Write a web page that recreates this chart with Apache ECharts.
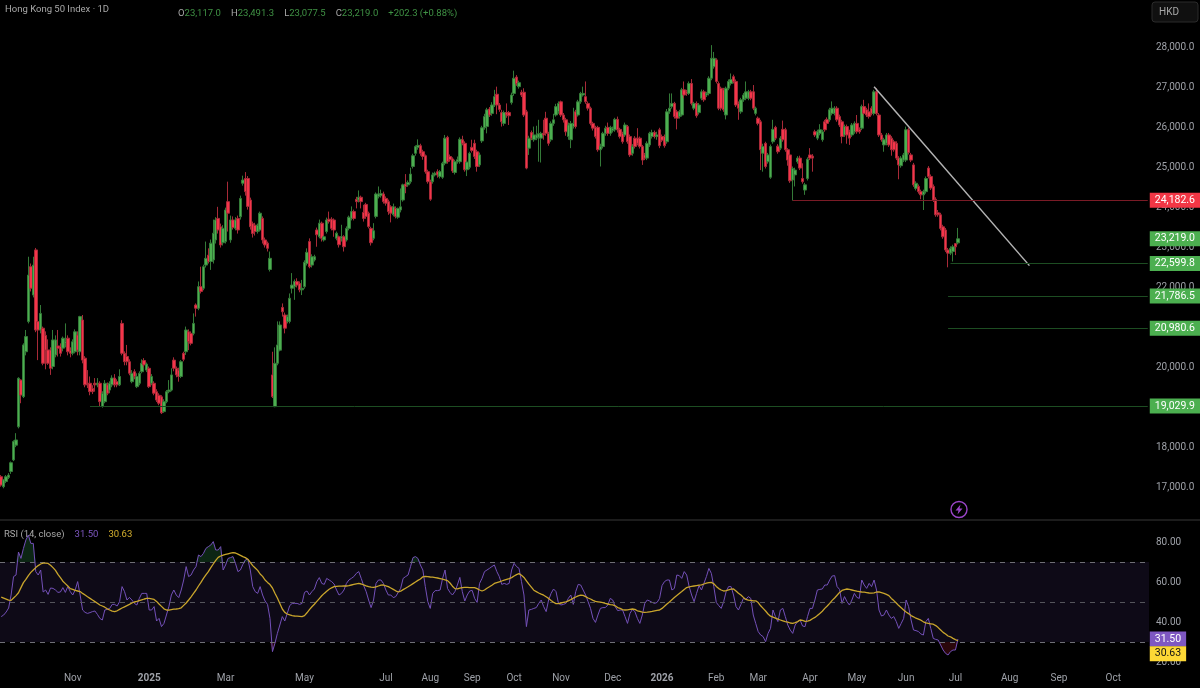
<!DOCTYPE html>
<html>
<head>
<meta charset="utf-8">
<title>Hong Kong 50 Index</title>
<style>html,body{margin:0;background:#000}#chart{width:1200px;height:688px}</style>
<script src="https://cdn.jsdelivr.net/npm/echarts@6/dist/echarts.min.js"></script>
</head>
<body>
<div id="chart"></div>
<script>
// Daily candles, each row is [open, close, low, high]
const barsLate2024 = [
[17260,17050,17010,17300],[17010,17180,16970,17200],[17140,17260,17100,17300],[17240,17300,17200,17350],[17390,17610,17330,17640],[17680,18140,17650,18170],[18050,18180,18000,18350],[18510,19725,18470,19750],[19680,19305,19100,19700],
[19265,20560,19230,20600],[20390,20770,20300,20935],[21145,22310,21100,22770],[22520,21980,21900,22600],[21810,22560,21750,22770],[22940,20935,20880,22990],[21145,20935,20180,21200],[20935,21350,20850,21560],[20980,20100,20050,21020],[20800,20430,19950,20900],
[20435,20100,20060,20700],[20435,19975,19810,20500],[20020,20685,19950,20935],[20310,20685,20250,20800],[20535,20480,20270,20935],[20530,20350,20270,20600],[20480,20730,20400,20770],[20600,20640,20500,21100],[20730,20390,20300,20800],[20430,20350,20250,20500],
[20350,20640,20300,20700],[20390,20890,20350,20950],[20810,20430,20300,20900],[20390,21270,20300,21290],[21185,20180,20100,21310],[20230,19560,19500,20280],[19600,19560,19480,19930],[19600,19390,19300,19770],[19470,19390,19330,19550],[19600,19560,19390,19730],
[19560,19600,19500,19730],[19600,19140,19020,19650],[19020,19350,18990,19400],[19140,19600,19100,19680],[19560,19350,19300,19620],[19430,19600,19350,19650],[19560,19730,19500,19800],[19730,19560,19500,19830],[19640,19560,19500,19700],
[19560,19770,19530,19950]];
const barsEarly2025 = [
[21100,20350,20300,21180],[20350,20140,20050,20400],[20270,20140,20050,20560],[20140,19850,19800,20200],[19640,19850,19600,19930],[19890,19770,19700,19950],[19515,19770,19480,19850],[19600,19850,19550,19900],[19890,20100,19850,20200],[20170,20060,20000,20230],
[19930,20080,19880,20120],[19975,19515,19480,20020],[19600,19770,19550,19830],[19600,19350,19300,19650],[19390,19180,19130,19450],[19300,19100,19050,19350],[19260,18860,18830,19300],[18890,19140,18860,19200],[19140,19390,19100,19430],[19390,19430,19350,19680],
[19430,19810,19400,19975],[20180,19975,19900,20250],[19975,19810,19750,20020],[19930,19770,19640,19990],[19770,20140,19730,20180],[20350,20200,20150,20390],[20390,20935,20310,21020],[20890,20640,20430,20950],[20850,20600,20550,20900],[20850,21100,20800,21350],
[21560,21480,21270,21600],[21480,22020,21430,22150],[22020,21900,21850,22520],[21980,22520,21930,22570],[22560,22730,22500,23150],[22810,22650,22600,22980],[22650,23110,22440,23200],[22690,23360,22600,23700],[23190,23690,23100,23760],[23730,23440,23350,24020],
[23520,23065,23000,23600],[23120,23480,23050,23560],[23150,23940,23100,24000],[24150,23860,23400,24650],[23190,23690,23120,23800],[23690,23500,23450,23780],[23480,23690,23430,23760],[23730,23440,23350,23800],[23770,24230,23700,24300],[24610,24690,24550,24800],[24730,24400,24300,24890],[24730,24030,23950,24790],[24190,23520,23450,24250],
[23600,23350,23250,23650],[23560,23400,23300,23620],[23400,23560,23350,23600],[23440,23860,23400,23900],[23730,23190,23100,23780],[23190,23065,23000,23250],[23110,22980,22900,23150],[22450,22730,22400,22900]];
const barsMid2025 = [
[19810,19265,19230,20390],[19015,20100,19000,20500],[20100,20560,20050,21150],[20430,21060,20400,21150],[21500,21390,21270,21600],[21310,20980,20850,21370],[21150,21270,21100,21320],[21150,21730,21100,21850],[21980,22060,21850,22360],[22020,22150,21690,22200],
[22150,22060,22000,22230],[22100,21940,21880,22150],[21940,21980,21810,22190],[22020,22630,21970,22680],[22600,22880,22550,22980],[23150,22520,22480,23230],[22560,22770,22500,22830],[22690,22770,22650,22820],[23440,23320,23020,23500],[23270,23610,23230,23700],
[23610,23230,23150,23650],[23190,23270,23150,23300],[23400,23690,23350,23750],[23710,23650,23600,23900],[23710,23480,23430,23760],[23690,23440,23270,23730],[23230,23360,23180,23400],[23270,23070,23000,23300],[23230,23270,23150,23570],[23270,23020,22900,23310],
[23190,23480,23150,23530],[23480,23760,23430,23800],[23730,23900,23680,24030],[23900,23730,23680,23950],[24210,24150,23980,24270],[24190,24260,24130,24430],[24260,24150,23980,24300],[23880,23730,23650,24070],[24080,23780,23720,24120],[23860,23525,23480,23900],
[23480,23120,23050,23520],[23230,23420,23180,23610],[23780,24340,23730,24380],[24280,24340,24230,24530],[24300,24350,24250,24450],[24340,24150,24100,24400],[24230,24110,24050,24280],[24150,23900,23820,24200],[24020,23860,23630,24060],[23820,24020,23780,24100],
[23980,23780,23730,24030],[23760,23980,23720,24000],[23940,24020,23880,24480],[24190,24570,24150,24600],[24590,24530,24360,24840],[24570,24630,24520,24680],[24650,24840,24600,25000],[25030,25300,24980,25350],[25360,25530,25300,25560],[25510,25560,25450,25710],
[25550,25360,25300,25600],[25400,25280,25200,25450],[25300,24900,24850,25330],[24900,24650,24600,24950],[24650,24210,24170,24700],[24650,24820,24600,24880],[24820,24860,24780,24900],[24900,24820,24750,24960],[24780,24900,24730,24940],[24760,25110,24720,25150],
[25110,25740,25060,25820],[25760,25150,25100,25800],[25280,25200,25150,25330],[25220,24920,24870,25260],[24880,25150,24830,25200],[25150,25200,25100,25280],[25150,25710,25100,25760],[25700,25610,25560,25800],[25610,24950,24900,25660],[24950,25140,24790,25190],
[25010,25360,24960,25400],[25510,25430,25380,25700],[25610,25280,25220,25700],[25400,25030,24900,25450],[25070,25320,25020,25380],[25670,26000,25620,26050],[26000,26280,25950,26350],[26030,26450,25860,26500],[26470,26320,26270,26520],[26360,26570,26300,26640],
[26570,26780,26520,26950],[26840,26570,26340,27030],[26570,26460,26400,26620],[26380,26150,26030,26450],[26110,26380,26050,26430],[26380,26320,26250,26610],[26380,26300,26070,26420],[26630,26820,26580,26880],[26860,27240,26800,27430],[27270,27100,27050,27320],
[27030,27130,26980,27180],[26890,26820,26770,26950],[26890,26320,26270,26990],[26400,24990,24960,26450],[25490,25740,25320,25800],[25880,25740,25690,25930],[25700,25820,25650,26030],[25740,25820,25690,26050],[25760,25850,25150,26200]];
const barsLate2025 = [
[25740,25860,25130,25900],[25860,25820,25700,26200],[26240,25860,25800,26400],[25860,25610,25550,25900],[25700,26110,25650,26160],[26110,26200,26050,26350],[26320,26530,26280,26600],[26400,26610,26350,26660],[26650,26320,26270,26680],[26320,26200,26130,26370],
[26200,25900,25800,26250],[25780,26070,25700,26130],[25700,26110,25490,26170],[26030,26110,25980,26500],[26400,26030,25980,26450],[26320,26650,26280,26700],[26650,26860,26600,26900],[26820,26860,26780,27030],[26780,26650,26600,27160],[26610,26490,26430,26660],
[26490,26110,26060,26530],[26110,25990,25930,26150],[26010,25780,25730,26050],[26010,25450,25400,26050],[25450,25540,25030,25600],[25530,25860,25480,25900],[25860,25990,25800,26050],[26010,25860,25800,26130],[25860,26010,25800,26050],[25930,25990,25880,26030],
[25950,26210,25900,26250],[26210,25950,25880,26280],[25960,25780,25730,26000],[25860,25650,25600,25900],[25820,26070,25770,26130],[26030,25650,25600,26070],[25780,25320,25270,25830],[25360,25540,25300,25590],[25740,25530,25480,25790],[25740,25610,25560,25990],
[25740,25530,25480,25780],[25530,25190,25070,25570],[25320,25240,25190,25370],[25240,25610,25190,25660],[25570,25860,25520,25900],[25780,25880,25730,25950],[25880,25780,25730,25930],[25780,25820,25700,25900],[25950,25550,25490,26000],[25780,25690,25640,25830],
[25780,25550,25500,25830]];
const barsEarly2026 = [
[25650,26400,25600,26470],[26410,26490,26350,26860],[26530,26610,26480,26860],[26610,26280,26230,26650],[26400,26240,25960,26450],[26280,26400,26230,26450],[26320,26950,26280,27000],[26950,26820,26740,27160],[26900,26860,26800,26950],[26860,27110,26820,27160],
[27110,26610,26560,27220],[26490,26610,26440,26650],[26610,26300,26250,26660],[26380,26570,26330,26620],[26740,26900,26690,26960],[26900,26700,26650,26950],[26820,26860,26770,26900],[26860,27240,26810,27290],[27240,27740,27190,28070],[27530,27740,27480,27900],
[27700,27160,27110,27740],[27110,26490,26440,27160],[26990,26490,26430,27030],[26950,26450,26400,27000],[26320,26990,26210,27030],[26990,27160,26940,27210],[27110,27210,27060,27360],[27280,27160,27110,27330],[27160,26570,26520,27210],
[26610,26490,26200,26660],[26400,26700,26350,26750],[26700,26820,26650,26870],[26740,26900,26690,27160],[26740,26900,26690,26950],[26900,26740,26690,26950],[26900,26490,26440,27070],[26360,26490,26310,26530],[26240,26110,26060,26280],[26150,25450,24940,26200],
[25360,25530,24900,25600],[25610,25030,24980,25650],[25150,25320,25100,25370],[24760,25530,24720,25580],[25650,25960,25600,26200],[26010,25740,25690,26050],[25540,25400,25350,25590],[25490,25740,25440,25790],[25960,25700,25650,26180],
[25950,25450,25400,26000],[25450,25190,25050,25490],[25320,24670,24620,25370],[24690,24980,24175,25030],[24820,24940,24530,25000],[25150,25240,25100,25290],[25240,24990,24940,25300],[24730,24650,24600,25110],[24440,24570,24320,24620],[24730,25210,24680,25260],
[25320,25240,25190,25490],[25290,25240,24900,25340]];
const barsMid2026 = [
[25900,25820,25770,25950],[25740,25900,25690,25950],[25860,25950,25810,26090],[25700,25900,25650,25950],[26150,25950,25900,26200],[26210,26110,26060,26260],[26200,26450,26150,26500],[26360,26490,26310,26660],[26360,26490,26310,26540],[26490,26200,26150,26540],
[26280,26070,26020,26330],[26150,25780,25610,26200],[25820,26030,25770,26080],[26030,25820,25600,26080],[25900,25740,25570,25950],[25820,26070,25770,26120],[25900,26110,25850,26160],[26110,25900,25850,26320],[25960,25900,25850,26010],[25990,26530,25940,26580],
[26530,26360,26310,26700],[26450,26320,26270,26500],[26400,26280,26230,26610],[26490,26360,26310,26540],[26360,26900,26310,26950],[26900,26360,26310,26990],[26320,25820,25770,26370],[25820,25700,25650,25870],[25570,25700,25400,25750],[25610,25820,25560,25870],
[25820,25570,25520,25870],[25740,25450,25300,25790],[25650,25450,25400,25700],[25610,25240,25190,25660],[25240,25070,24710,25290],[25050,25240,25000,25290],[25190,25320,25140,25370],[25190,25950,25140,26030],[25950,25380,25330,26000],[25320,25190,25140,25370],
[25070,24570,24520,25120],[24480,24610,24430,24660],[24530,24400,24350,24580],[24400,24320,24210,24450],[24320,24400,23940,24450],[24400,24730,24350,24780],[24990,24780,24730,25040],[24780,24490,24440,24830],[24530,24190,24140,24580],[24210,23820,23770,24260],
[23870,23820,23770,23940],[23820,23480,23430,23870],[23520,23270,23220,23570],[23440,22940,22890,23490],[22940,22860,22505,22990],[22860,22980,22810,23030],[22900,23020,22650,23070],[23100,23017,22810,23110],[23117,23219,23077.5,23491.3]];

// RSI (14) and its moving average, one value per candle
const rsiValues = [
42.7,43.5,45,47,53.5,62.7,63.5,75,71.8,76.8,81,83.5,79.3,79.3,65.2,63.5,66,55,56,53.8,
57,56.8,56,54.8,55,57.2,54.8,57.7,55.2,53.5,56,60.2,53.5,46,44.8,44.3,44.7,45.2,45.5,43.8,
41.8,41,46,46.3,46.8,48.8,48.8,48,50.2,57.7,55.2,51,52.3,51,49.3,48.5,51.8,54.3,54.3,54.3,
46,46,47.7,40.5,41.8,37.7,39.3,43.5,47.7,53.5,56,53.5,52.2,56,61,67.7,62.7,63.5,66,67.7,
73.5,72.7,74.3,76.8,77.7,78.5,80.2,76,76,77.7,66,68.5,71.8,72.2,72.7,69.3,65.2,66,68.8,71,
71.5,66,57.7,55.2,54.3,57.7,53.5,50.5,48.8,41.8,25.2,29.3,34.3,38.5,42.7,40.5,44.3,48.2,49.3,49.3,
49.3,48.8,49.3,54.8,55.5,53.5,55.2,56.5,60.2,62.2,59.3,58.8,61.8,61,60.2,59,56,53.5,54.3,56,
59.3,61,61.8,62.7,64.3,65.2,61.8,58.2,55.2,51,47.2,51,59.3,61,61,59.3,56,53.5,53.5,52.2,
52.7,54.8,56.8,61.8,62.7,63.5,67.7,72.2,72.7,71.8,68.5,66,57.7,50.2,46.8,54.3,55.7,55.7,56,61.8,
66,56.8,54.8,53.5,55.2,58.5,62.3,55.2,50.5,53.5,55.5,55.8,51.8,49.8,59.3,61.8,65.2,66,66.8,67.7,
68.5,65.2,62.7,58.8,59.3,58.8,59.3,66,69.3,67.7,66.8,60.2,53.5,37.7,46,46.3,46.8,47.2,49.3,51,
47.7,45.2,51,54.3,56.5,55.2,49.3,48.5,48.8,49.3,51.8,53.5,48.8,55.2,58.8,58.5,56,53.5,50.2,46.8,
41.8,39.8,43.5,46.8,47.2,47.2,48.5,51.8,51,47.7,45.7,46,46,42.7,39.3,44.3,46.3,45.2,41.8,39.3,
43.5,49.3,51,50.5,49.8,49.3,49.8,51.8,58.2,60.2,61,61,56,56.8,63.5,63.2,61.8,65.2,63.5,57.7,
53.5,50.2,54.3,58.2,56,59.3,62.7,66.8,64.3,57.7,49.8,48.2,46.8,50.2,55.2,57.7,57.7,53.5,47.7,46,
48.8,51.8,51.3,52.7,51.8,43.5,39.3,35.2,33.5,32.7,30.2,34.3,36.8,46,42.7,40.2,46,46.8,42.7,38.5,
36,34.3,38.5,40.2,41,38,37.7,42.7,46.8,46.8,51,56,56.3,56.5,58.5,58.5,61,63,63.2,57.7,
56.3,49.3,52.7,50.2,48.5,51,54.3,52.3,51.8,61,58.5,56.8,59.3,57.7,61,56,46,43,43.5,46,
43.5,41.8,42.7,40.2,36.8,39.3,41.8,51,47.7,41,36,35.7,35.2,34,33.5,40.2,41.8,36.8,31.8,31.3,
31,28.5,26,24.3,23.5,25.2,26,26,31.5];
const rsiAverage = [
52.4,51.9,51.4,50.9,50.8,52,53.2,54.6,57.2,59.7,61.3,63.2,64.8,66,67.2,68.2,69,69.4,69.4,69.3,
68.4,67.2,65.8,63.8,62.2,60.4,59.2,58,56.7,56.3,55.8,55.5,55.2,54.3,53.5,52.6,51.8,51,50.2,49.4,
48.5,48,47.4,46.6,46,45.4,45.2,45.6,46.3,47,47.6,48.2,48.8,49.5,50,50.3,50.7,51.1,51.5,51.8,
51.8,51.6,51.3,50.3,49,47.8,46.6,46,45.9,46.2,46.4,46.5,46.7,47.1,48.3,49.5,51,52.6,54.3,56,
58,59.8,61.8,63.6,65.2,67.2,69,70.8,72.3,73,73.4,73.8,74.1,74.4,74.7,74.5,73.9,73.3,72.7,72.2,
71.4,69.8,68.2,67,65.8,64,62.8,61,59.8,58.7,57,54.4,52,49.3,46.5,44.8,44,43.6,43.2,43,
42.9,42.8,42.7,43.2,44.6,46.2,47.6,48.9,50.3,51.7,53.1,54.3,55.4,56.4,57.1,57.7,57.8,57.9,57.9,58,
58,58.2,58.5,58.8,59.1,59.3,59,58.6,58.1,57.7,57.4,57.3,57.6,58,58.4,58.5,58.1,57.7,57,56.3,
55.6,55,55.4,56.2,56.9,57.6,58.4,59.2,60,60.8,61.5,62.6,62.8,62.7,62.5,62.4,62.2,62,61.7,61.4,
61.1,60.7,59.5,57.9,56.7,56.6,56.9,57.2,57.3,57.3,57.2,57.2,57.2,56.7,56,55.5,56,56.9,57.6,58.4,
59.3,59.7,60.1,60.5,60.9,61.3,61.7,62.2,63,63.7,64.2,63.4,62.3,60.6,58.9,57.4,55.9,55.2,54.5,53.9,
53.4,52.6,51.8,50.8,49.9,49.2,49.2,49.5,49.8,50.1,50.6,51.2,51.9,52.5,53.1,53.4,53.3,52.7,52,51.5,
50.8,50.3,50.1,49.9,49.7,49.3,49,48.7,48.6,48.1,47.2,46.8,46.2,46,46.1,46.3,46.5,46.3,45.6,45.3,
44.9,44.8,44.9,45.1,45.3,45.6,45.8,46,46.8,47.9,49,50,51.1,52.2,53.2,54.2,55.2,56.3,57.2,57.6,
57.8,58,58.2,58.4,58.6,59,59.4,59.7,59.8,59.1,57.8,56.7,56,55.5,55.7,56.1,56.4,56.5,55.5,54.4,
53.5,52.3,51.3,50.9,50.8,50.6,50.6,49.7,48.1,46.8,45.5,44,42.9,42.4,41.9,41.4,41,40.6,40.2,39.9,
39.5,39.3,39.7,40.2,41,40.8,40.3,40.4,40.8,41.6,42.3,43.2,44.3,45.4,46.8,48,49.3,50.8,52,53.4,
54.8,55.8,56.2,56.5,56.3,56,55.7,55.4,55.2,55,54.9,54.7,54.5,54.4,54.6,55,55.1,54.7,54.3,53.8,
53.2,51.8,50.7,49.5,48.2,47.1,46,45,44.2,43.2,42.6,41.9,41.4,40.9,40.1,39.6,39.3,39.1,38.9,38.2,
37.2,36,34.8,34,33,32.6,31.8,31.2,30.63];

// Month labels along the time scale, keyed by session number
const timeLabels = [['Nov',29],['2025',60],['Mar',91],['May',123],['Jul',156],['Aug',174],['Sep',191],['Oct',208],['Nov',227],['Dec',248],['2026',268],['Feb',290],['Mar',307],['Apr',328],['May',347],['Jun',367],['Jul',387],['Aug',409],['Sep',429],['Oct',451]];

// Horizontal levels: [first session, price]
const levelSupport = [36, 19029.9];
const levelResistance = [321, 24182.6];
const levelRecentLow = [385, 22599.8];
const levelTargetOne = [384, 21786.5];
const levelTargetTwo = [384, 20980.6];
const trendEnds = [[354, 27030], [417, 22547]];

const quote = {symbol:'Hong Kong 50 Index · 1D', open:'23,117.0', high:'23,491.3', low:'23,077.5', close:'23,219.0', change:'+202.3 (+0.88%)'};

const SESSION_COUNT = 466;
const FONT = 'Roboto, sans-serif';
const UP = '#4caf50', DOWN = '#f23645', AXIS_TEXT = '#9ea1a8';

const candles = [].concat(barsLate2024, barsEarly2025, barsMid2025, barsLate2025, barsEarly2026, barsMid2026);
const labelBySession = new Map(timeLabels.map(([t, s]) => [s, t]));
const sessions = Array.from({length: SESSION_COUNT}, (_, i) => labelBySession.get(i) || 's' + i);
const lastBar = candles.length - 1;
const lastClose = candles[lastBar][1];

const fmtPrice = v => v.toLocaleString('en-US', {minimumFractionDigits: 1, maximumFractionDigits: 1});

// A price tag in the right margin with an optional level line leading to it
function tag(from, value, text, lineColor, bg, fg, offsetY) {
  return [{
    coord: [from, value],
    lineStyle: {color: lineColor, width: 1, type: 'solid'},
    label: {
      show: true, position: 'end', distance: 2, formatter: text, color: fg,
      backgroundColor: bg, padding: [2, 5, 2, 5], fontFamily: FONT, fontSize: 10.5,
      offset: [0, offsetY || 0]
    }
  }, {coord: [SESSION_COUNT - 1, value]}];
}

const levels = [
  tag(levelSupport[0], levelSupport[1], fmtPrice(levelSupport[1]), '#1d4d22', UP, '#fff'),
  tag(levelResistance[0], levelResistance[1], fmtPrice(levelResistance[1]), '#7a1b26', DOWN, '#fff'),
  tag(levelRecentLow[0], levelRecentLow[1], fmtPrice(levelRecentLow[1]), '#1d4d22', UP, '#fff'),
  tag(levelTargetOne[0], levelTargetOne[1], fmtPrice(levelTargetOne[1]), '#1d4d22', UP, '#fff'),
  tag(levelTargetTwo[0], levelTargetTwo[1], fmtPrice(levelTargetTwo[1]), '#1d4d22', UP, '#fff'),
  tag(lastBar, lastClose, fmtPrice(lastClose), 'rgba(0,0,0,0)', UP, '#fff')
];

const headerFont = {fontSize: 9.5, fontWeight: 'normal', fontFamily: FONT};
const quoteText = '{k|O}{v|' + quote.open + '}  {k|H}{v|' + quote.high + '}  {k|L}{v|' + quote.low + '}  {k|C}{v|' + quote.close + '}  {v|' + quote.change + '}';

const option = {
  backgroundColor: '#000',
  animation: false,
  title: [
    {text: quote.symbol, left: 5, top: 5, padding: 0, textStyle: {color: '#a8a8a8', ...headerFont}},
    {text: quoteText, left: 178, top: 5, padding: 0, textStyle: {fontWeight: 'normal', rich: {
      k: {color: '#a8a8a8', ...headerFont},
      v: {color: '#3f9144', ...headerFont}
    }}},
    {text: '{a|RSI (14, close)}  {b|31.50}  {c|30.63}', left: 4, top: 526, padding: 0, textStyle: {fontWeight: 'normal', rich: {
      a: {color: '#a8a8a8', ...headerFont},
      b: {color: '#7e57c2', ...headerFont},
      c: {color: '#d4b02e', ...headerFont}
    }}}
  ],
  grid: [
    {left: 0, width: 1149, top: 8, height: 519},
    {left: 0, width: 1149, top: 502, height: 160}
  ],
  xAxis: [
    {type: 'category', gridIndex: 0, data: sessions, show: false},
    {type: 'category', gridIndex: 1, data: sessions,
     axisLine: {show: false}, axisTick: {show: false},
     axisLabel: {
       interval: (i) => labelBySession.has(i), margin: 11, fontFamily: FONT, fontSize: 10, color: AXIS_TEXT,
       formatter: v => /^\d+$/.test(v) ? '{y|' + v + '}' : v,
       rich: {y: {fontFamily: FONT, fontSize: 10, fontWeight: 'bold', color: AXIS_TEXT}}
     }}
  ],
  yAxis: [
    {type: 'value', gridIndex: 0, position: 'right', min: 16000, max: 29000, interval: 1000,
     splitLine: {show: false}, axisLine: {show: false}, axisTick: {show: false},
     axisLabel: {margin: 7, color: AXIS_TEXT, fontFamily: FONT, fontSize: 10,
       formatter: v => (v < 17000 || v > 28000) ? '' : fmtPrice(v)}},
    {type: 'value', gridIndex: 1, position: 'right', min: 20, max: 100, interval: 20,
     splitLine: {show: false}, axisLine: {show: false}, axisTick: {show: false},
     axisLabel: {margin: 7, color: AXIS_TEXT, fontFamily: FONT, fontSize: 10,
       formatter: v => v > 80 ? '' : v.toFixed(2)}}
  ],
  series: [
    {type: 'candlestick', name: 'HK50', xAxisIndex: 0, yAxisIndex: 0, data: candles, barWidth: 3,
     itemStyle: {color: UP, color0: '#f5354a', borderColor: '#347a38', borderColor0: '#a82a38', borderWidth: 1},
     markLine: {silent: true, symbol: 'none', animation: false, data: levels}},
    {type: 'line', name: 'Trend', xAxisIndex: 0, yAxisIndex: 0, data: trendEnds, showSymbol: false,
     lineStyle: {color: '#b4b4b4', width: 1.5}, z: 3},

    // Overbought and oversold shading, stacked on the band limits
    {type: 'line', xAxisIndex: 1, yAxisIndex: 1, stack: 'over', data: rsiValues.map(() => 70), showSymbol: false, lineStyle: {width: 0}},
    {type: 'line', xAxisIndex: 1, yAxisIndex: 1, stack: 'over', data: rsiValues.map(r => Math.max(r, 70) - 70), showSymbol: false, lineStyle: {width: 0}, areaStyle: {color: '#0c2614', opacity: 1}},
    {type: 'line', xAxisIndex: 1, yAxisIndex: 1, stack: 'under', data: rsiValues.map(r => Math.min(r, 30)), showSymbol: false, lineStyle: {width: 0}},
    {type: 'line', xAxisIndex: 1, yAxisIndex: 1, stack: 'under', data: rsiValues.map(r => 30 - Math.min(r, 30)), showSymbol: false, lineStyle: {width: 0}, areaStyle: {color: '#2a070b', opacity: 1}},

    {type: 'line', name: 'RSI', xAxisIndex: 1, yAxisIndex: 1, data: rsiValues, showSymbol: false, z: 4,
     lineStyle: {color: '#7350b8', width: 1},
     markArea: {silent: true, itemStyle: {color: '#0e0a17'}, data: [[{yAxis: 70}, {yAxis: 30}]]},
     markLine: {silent: true, symbol: 'none', animation: false, data: [
       {yAxis: 70, lineStyle: {color: '#6f6f76', type: [5, 5], width: 1}, label: {show: false}},
       {yAxis: 50, lineStyle: {color: '#55555c', type: [5, 5], width: 1}, label: {show: false}},
       {yAxis: 30, lineStyle: {color: '#6f6f76', type: [5, 5], width: 1}, label: {show: false}},
       tag(lastBar, 31.5, '31.50', 'rgba(0,0,0,0)', '#7e57c2', '#fff')
     ]}},
    {type: 'line', name: 'RSI MA', xAxisIndex: 1, yAxisIndex: 1, data: rsiAverage, showSymbol: false, z: 5,
     lineStyle: {color: '#c9a52c', width: 1.3},
     markLine: {silent: true, symbol: 'none', animation: false, data: [
       tag(lastBar, 30.63, '30.63', 'rgba(0,0,0,0)', '#fdd835', '#131313', 13)
     ]}}
  ],
  graphic: [
    {type: 'rect', silent: true, z: -1, shape: {x: 0, y: 519, width: 1200, height: 2}, style: {fill: '#1c1c1c'}},
    {type: 'rect', silent: true, shape: {x: 1152, y: 2, width: 46, height: 20, r: 3}, style: {fill: '#101010', stroke: '#2b2b2b', lineWidth: 1}},
    {type: 'text', silent: true, x: 1159, y: 7, style: {text: 'HKD', fill: '#a8a8a8', font: '10px ' + FONT}},
    {type: 'circle', silent: true, shape: {cx: 959, cy: 509.5, r: 8}, style: {fill: '#000', stroke: '#9a45c8', lineWidth: 1.4}},
    {type: 'polygon', silent: true, shape: {points: [[960.5,504.5],[955.5,510.5],[958.5,510.5],[957.5,514.5],[962.5,508.5],[959.5,508.5]]}, style: {fill: '#9a45c8'}}
  ]
};

const chart = echarts.init(document.getElementById('chart'), null, {renderer: 'canvas'});
chart.setOption(option);
</script>
</body>
</html>
